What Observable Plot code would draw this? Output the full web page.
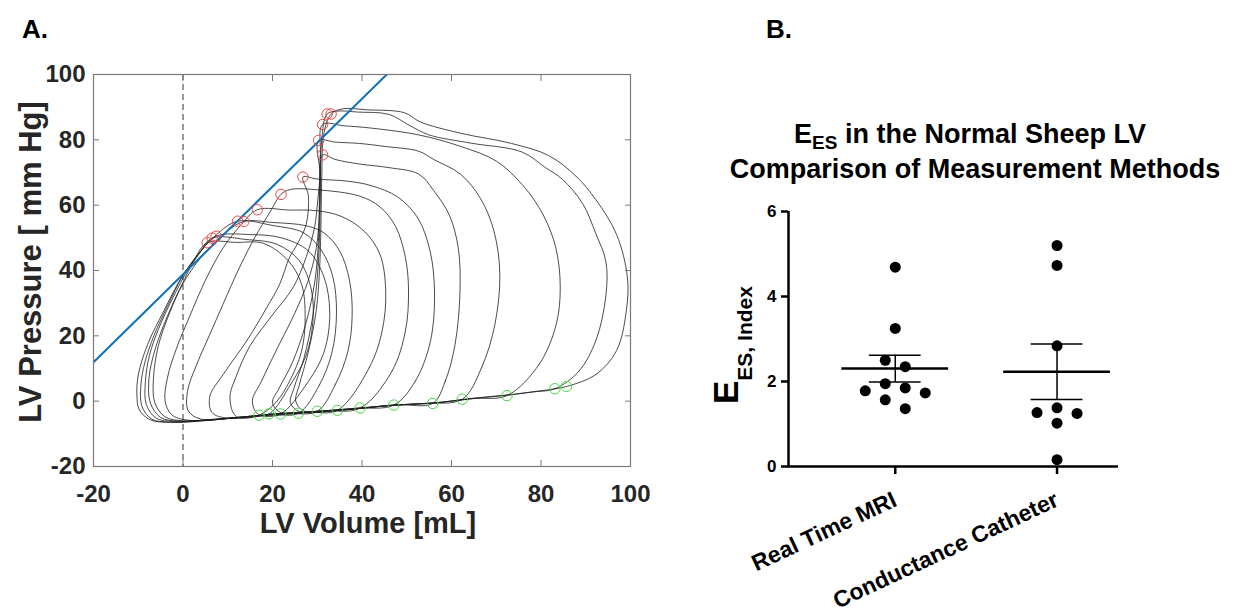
<!DOCTYPE html>
<html>
<head>
<meta charset="utf-8">
<script src="https://cdn.jsdelivr.net/npm/d3@7"></script>
<script src="https://cdn.jsdelivr.net/npm/@observablehq/plot@0.6"></script>
<style>
html,body{margin:0;padding:0;background:#fff;}
#wrap{position:relative;width:1241px;height:614px;overflow:hidden;background:#fff;font-family:"Liberation Sans",Arial,Helvetica,sans-serif;}
#panelA{position:absolute;left:0;top:0;}
#panelB{position:absolute;left:680px;top:0;}
#labels{position:absolute;left:0;top:0;pointer-events:none;}
</style>
</head>
<body>
<div id="wrap">
<div id="panelA"></div>
<div id="panelB"></div>
<svg id="labels" width="1241" height="614" font-family="'Liberation Sans', Arial, Helvetica, sans-serif" font-weight="bold">
  <text x="22" y="38" font-size="26" fill="#000">A.</text>
  <text x="766" y="38" font-size="26" fill="#000">B.</text>
  <text x="970" y="143" text-anchor="middle" font-size="27" fill="#000">E<tspan font-size="19" dy="6">ES</tspan><tspan dy="-6"> in the Normal Sheep LV</tspan></text>
  <text x="975" y="178" text-anchor="middle" font-size="27" fill="#000">Comparison of Measurement Methods</text>
  <text x="368" y="533" text-anchor="middle" font-size="29" fill="#262626">LV Volume [mL]</text>
  <text transform="translate(41,262) rotate(-90)" text-anchor="middle" font-size="31" fill="#262626">LV Pressure [ mm Hg]</text>
  <text transform="translate(738,404) rotate(-90)" font-size="35" fill="#000">E<tspan font-size="21" dy="14">ES, Index</tspan></text>
</svg>
</div>
<script>
// ---------- Panel A data: pressure-volume loops [volume mL, pressure mmHg] ----------
const loop1 = [[85.7,4.5],[92.3,8.2],[96.9,15.5],[99.1,28],[99.3,38],[96.9,51],[92.3,61.6],[87.8,68.9],[81.7,75.2],[73.4,78.9],[62.1,82],[53,85.5],[49.5,88.3],[41,89.2],[35.7,89.5],[33.1,87.9],[31.5,82],[31,68],[30.8,52],[30.5,40],[29.8,28],[28,15],[26,5],[25.2,0],[27,-3],[35,-2.8],[47,-1.2],[56,-0.6],[64,0.8],[72.4,1.9],[80,3.2]];
const loop2 = [[83.1,3.8],[88.5,9.2],[92.3,18.7],[94.5,32.3],[94.5,42.8],[92.3,51.1],[89.3,60.5],[84.8,67.9],[81,71.5],[75.7,76.3],[64.3,79],[55,81.5],[50.5,84.5],[46,87.8],[39,88.5],[34.5,88.8],[32.2,87.9],[31,80],[30.7,65],[30.5,50],[30,38],[29,26],[27,13],[24.8,4],[24,-0.5],[26,-3.2],[35,-2.8],[47,-1.2],[56,-0.6],[64,0.7],[72.4,1.8],[78,2.8]];
const loop3 = [[72.4,1.7],[79.6,11.3],[83.4,23.5],[84.3,35],[83.3,47],[80.5,57],[76,66],[70,73.5],[62,78],[52.7,81.5],[42,83.6],[36,84.3],[31.2,84.7],[30.7,76],[30.5,64],[30.3,50],[29.5,37],[27.5,24],[24.5,12],[21.5,4],[20,-0.5],[22,-3.6],[30,-3.1],[40,-2],[50,-1],[58,-0.3],[65,0.8]];
const loop4 = [[62.4,0.6],[66.7,10.2],[69.7,23.5],[70.8,38.9],[69.5,52],[66.5,62],[62,69.5],[56,74],[52.7,76.5],[45,78],[39.4,78.9],[34,79.3],[30.3,79.8],[30.6,70],[30.5,58],[29.8,47],[28,37],[25,27],[21,16],[17.5,6],[15.5,0],[17,-4.2],[25,-3.7],[35,-2.8],[45,-1.5],[54,-0.7]];
const loop5 = [[55.8,-0.7],[58.6,6.1],[60.8,17.4],[61.9,33.7],[61.5,47],[59.5,57],[56,64.5],[52.7,69.5],[46,71.5],[39.4,72.6],[34,74],[31.2,75.4],[30.6,68],[30.1,61.3],[29.4,53.2],[27.5,44],[24.6,34.8],[20.1,26.6],[15,17],[12,8],[10.5,1],[12,-4.8],[20,-3.9],[30,-3.1],[40,-2.1],[48,-1.1]];
const loop6 = [[47.1,-1.2],[51.9,6.1],[55.3,18.4],[56.2,33.7],[55.2,46],[52.5,56],[48,62.5],[42,66],[37,67.3],[30,68],[26.8,68.6],[28,63],[27.5,54],[25.5,48],[23.8,44],[21.6,35.8],[18.7,28.6],[14.2,18.4],[9,8.2],[6,1.5],[6.5,-3.5],[10,-5.2],[20,-3.9],[30,-3.1],[39,-2.2]];
const loop7 = [[39.6,-2.1],[46.7,9.2],[49.7,21.5],[50.4,33.7],[49.7,44],[47.5,53.5],[44,59.5],[39.4,62.8],[30,64.7],[24,64.8],[21.9,63.3],[19.5,58],[16,50],[13,42],[10,33],[6.5,22],[3,11],[1,3],[1.2,-3],[4,-5.5],[12,-5],[22,-3.9],[31,-3]];
const loop8 = [[34.5,-2.8],[41.6,10.2],[44.5,21.5],[45.3,33.7],[44,45],[40.5,52],[35.5,56.5],[30,58.3],[23.8,58.5],[16.6,58.6],[13,54],[9,47],[5,37],[1.5,26],[-1.5,16],[-3.5,7],[-4,0],[-2.5,-4.2],[1,-5.8],[10,-5.3],[20,-4],[28,-3.4]];
const loop9 = [[30,-3.1],[34,5],[36.8,15],[37.8,26],[37.2,37],[35,46],[31.5,51.5],[27.5,53.7],[20.1,54.7],[13.6,55],[9,51],[4,44],[0,36],[-3,27],[-5.5,17],[-6.6,7],[-6.3,-0.5],[-4,-4.8],[0,-6],[8,-5.4],[16,-4.5],[23,-3.8]];
const loop10 = [[25.8,-3.7],[30.5,5],[33.3,15],[34.3,27],[33.5,38],[31,46],[27,51.5],[20,53.8],[12.2,55.1],[7.5,51],[3,44],[-0.5,35],[-3.5,26],[-6.2,16],[-7.6,7],[-7.3,-0.5],[-5,-5],[-1,-6.1],[7,-5.6],[14,-4.9],[20,-4.1]];
const loop11 = [[21.8,-3.9],[27.5,5],[31.5,15],[32.8,27],[31.5,38],[28,46],[22,50],[15,51],[7.4,50.5],[4,46],[1,40],[-2.5,31],[-5.5,22],[-7.5,14],[-8.4,6],[-8.2,-1],[-6,-5.2],[-2,-6.2],[5,-5.8],[12,-5],[17,-4.4]];
const loop12 = [[19.2,-3.9],[24,5],[27.5,14],[29,24],[28.7,34],[26,43],[21,48],[14,49.5],[6.5,49.9],[3.5,45],[0,38.5],[-3.5,29],[-6.5,20],[-8.5,12],[-9.4,5],[-9.2,-1.5],[-7,-5.5],[-3,-6.4],[4,-6],[10,-5.3],[15,-4.6]];
const loop13 = [[17,-4.3],[21,0],[23.8,6.1],[26.5,15.3],[27.3,25.5],[26.5,35.8],[23.5,43],[18,48.3],[12,48.6],[5.4,48.5],[2.5,43.5],[-0.5,37.5],[-4.3,27.6],[-7.9,17.4],[-10,8],[-10.3,2],[-9.8,-2.5],[-7.5,-5.6],[-3,-6.5],[4,-6.1],[11,-5.2]];

// End-systolic points (red) and end-diastolic points (green)
const esVolume   = [33.1, 32.2, 31.2, 30.3, 31.2, 26.8, 21.9, 16.6, 13.6, 12.2, 7.4, 6.5, 5.4];
const esPressure = [87.9, 87.9, 84.7, 79.8, 75.4, 68.6, 63.3, 58.6, 55.0, 55.1, 50.5, 49.9, 48.5];
const edVolume   = [85.7, 83.1, 72.4, 62.4, 55.8, 47.1, 39.6, 34.5, 30.0, 25.8, 21.8, 19.2, 17.0];
const edPressure = [4.5, 3.8, 1.7, 0.6, -0.7, -1.2, -2.1, -2.8, -3.1, -3.7, -3.9, -3.9, -4.3];

const volumeTicks = [-20, 0, 20, 40, 60, 80, 100];
const pressureTicks = [-20, 0, 20, 40, 60, 80, 100];
const volumeDomain = [-20, 100];
const pressureDomain = [-20, 100];
const zeroVolume = [0];

// ---------- Panel B data ----------
const methods = ["Real Time MRI", "Conductance Catheter"];
const mriValues = [4.69, 3.25, 2.50, 2.35, 1.95, 1.85, 1.78, 1.73, 1.57, 1.36];
const catheterValues = [5.20, 4.73, 2.84, 1.38, 1.27, 1.25, 1.02, 0.16];
const eesTicks = [0, 2, 4, 6];
const eesDomain = [0, 6];

// ---------- Panel A ----------
const loops = [loop1, loop2, loop3, loop4, loop5, loop6, loop7, loop8, loop9, loop10, loop11, loop12, loop13];
const loopRows = loops.flatMap((pts, i) => pts.map(([v, p]) => ({loop: i, v, p})));
const esRows = esVolume.map((v, i) => ({v, p: esPressure[i]}));
const edRows = edVolume.map((v, i) => ({v, p: edPressure[i]}));

// ESPVR: least-squares line through the end-systolic points
const mv = d3.mean(esVolume), mp = d3.mean(esPressure);
const slope = d3.sum(esVolume, (v, i) => (v - mv) * (esPressure[i] - mp)) / d3.sum(esVolume, v => (v - mv) ** 2);
const intercept = mp - slope * mv;
const espvr = volumeDomain.map(v => ({v, p: intercept + slope * v}));

const fontA = '"Liberation Sans", Arial, Helvetica, sans-serif';
const plotA = Plot.plot({
  width: 680, height: 560,
  marginLeft: 93, marginRight: 50, marginTop: 74, marginBottom: 94,
  x: {domain: volumeDomain},
  y: {domain: pressureDomain},
  style: {fontFamily: fontA, color: "#262626", background: "transparent", overflow: "visible"},
  marks: [
    Plot.ruleX(zeroVolume, {stroke: "#333", strokeWidth: 1, strokeDasharray: "6,4"}),
    Plot.line(loopRows, {x: "v", y: "p", z: "loop", curve: "catmull-rom-closed", stroke: "#1e1e1e", strokeWidth: 0.8}),
    Plot.line(espvr, {x: "v", y: "p", stroke: "#0f72b8", strokeWidth: 2, clip: true}),
    Plot.dot(esRows, {x: "v", y: "p", r: 5.2, stroke: "#e8494b", strokeWidth: 1, fill: "none"}),
    Plot.dot(edRows, {x: "v", y: "p", r: 5.2, stroke: "#47d847", strokeWidth: 1, fill: "none"}),
    Plot.frame({stroke: "#7a7a7a", strokeWidth: 1.2}),
    Plot.axisX({ticks: volumeTicks, tickSize: -6, tickPadding: 24, tickFormat: d => String(d), fontSize: 24, fontWeight: "bold", stroke: "#7a7a7a", label: null}),
    Plot.axisX({anchor: "top", ticks: volumeTicks, tickSize: -6, tickFormat: () => "", stroke: "#7a7a7a", label: null}),
    Plot.axisY({ticks: pressureTicks, tickSize: -6, tickPadding: 14, tickFormat: d => String(d), fontSize: 24, fontWeight: "bold", stroke: "#7a7a7a", label: null}),
    Plot.axisY({anchor: "right", ticks: pressureTicks, tickSize: -6, tickFormat: () => "", stroke: "#7a7a7a", label: null})
  ]
});
document.getElementById("panelA").appendChild(plotA);

// ---------- Panel B ----------
const groups = [mriValues, catheterValues];
const xDomainB = [0.34, 2.38];
const pxPerUnit = (561 - 108 - 123) / (xDomainB[1] - xDomainB[0]);
const step = 20 / pxPerUnit;          // horizontal spacing between side-by-side dots
const rowTol = 0.25;                  // values closer than this share a row
const dotRows = [];
const stats = [];
groups.forEach((vals, gi) => {
  const center = gi + 1;
  const sorted = vals.slice().sort((a, b) => b - a);
  const rows = [];
  for (const v of sorted) {
    const last = rows[rows.length - 1];
    if (last && last[0] - v <= rowTol) last.push(v); else rows.push([v]);
  }
  for (const row of rows) {
    const n = row.length;
    const slots = d3.range(n).map(k => k - (n - 1) / 2)
      .sort((a, b) => Math.abs(a) - Math.abs(b) || a - b);
    row.forEach((v, k) => dotRows.push({x: center + slots[k] * step, y: v}));
  }
  const m = d3.mean(vals);
  const sem = d3.deviation(vals) / Math.sqrt(vals.length);
  stats.push({x: center, mean: m, lo: m - sem, hi: m + sem});
});

const plotB = Plot.plot({
  width: 561, height: 614,
  marginLeft: 108, marginRight: 123, marginTop: 211, marginBottom: 148,
  x: {domain: xDomainB},
  y: {domain: eesDomain},
  style: {fontFamily: fontA, color: "#000", background: "transparent", overflow: "visible"},
  marks: [
    Plot.ruleX([xDomainB[0]], {stroke: "#000", strokeWidth: 2.5}),
    Plot.ruleY([eesDomain[0]], {stroke: "#000", strokeWidth: 2.5}),
    Plot.axisY({ticks: eesTicks, tickSize: 7, tickPadding: 5, strokeWidth: 2.5, tickFormat: d => String(d), fontSize: 17, fontWeight: "bold", label: null}),
    Plot.axisX({ticks: [1, 2], tickSize: 8, strokeWidth: 2.5, tickRotate: -25, tickPadding: 24, tickFormat: i => methods[i - 1], fontSize: 23, fontWeight: "bold", label: null}),
    Plot.ruleY(stats, {y: "mean", x1: d => d.x - 0.33, x2: d => d.x + 0.33, stroke: "#000", strokeWidth: 2.5}),
    Plot.ruleX(stats, {x: "x", y1: "lo", y2: "hi", stroke: "#000", strokeWidth: 1.5}),
    Plot.ruleY(stats, {y: "lo", x1: d => d.x - 0.16, x2: d => d.x + 0.16, stroke: "#000", strokeWidth: 1.5}),
    Plot.ruleY(stats, {y: "hi", x1: d => d.x - 0.16, x2: d => d.x + 0.16, stroke: "#000", strokeWidth: 1.5}),
    Plot.dot(dotRows, {x: "x", y: "y", r: 5.5, fill: "#000", stroke: "none"})
  ]
});
document.getElementById("panelB").appendChild(plotB);
</script>
</body>
</html>
